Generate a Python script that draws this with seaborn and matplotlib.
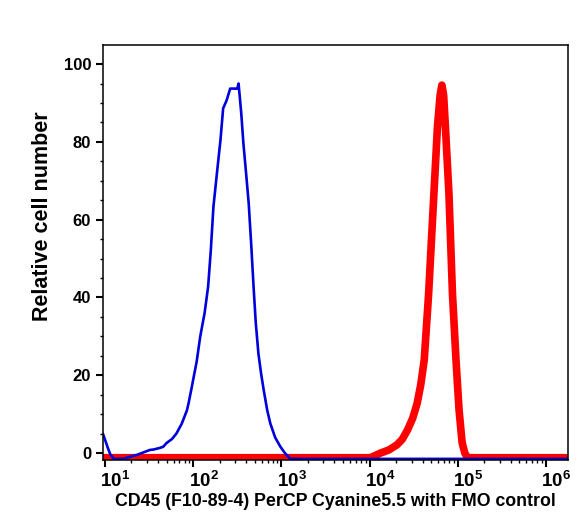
import numpy as np
import pandas as pd
import matplotlib
matplotlib.use('Agg')
import matplotlib.pyplot as plt
import matplotlib.ticker as mticker
import matplotlib.transforms as mtransforms
import seaborn as sns

# histogram traces, x given as log10 of fluorescence intensity
fmo_logx = [0.977, 1.0, 1.03, 1.06, 1.1, 1.2, 1.36, 1.51, 1.55, 1.62, 1.66, 1.70, 1.76, 1.81,
            1.87, 1.93, 1.95, 1.985, 2.0, 2.04, 2.08, 2.13, 2.17, 2.20, 2.23, 2.27, 2.31,
            2.34, 2.38, 2.42, 2.44, 2.50, 2.515, 2.545, 2.57, 2.60, 2.63, 2.66, 2.685,
            2.71, 2.74, 2.77, 2.80, 2.84, 2.875, 2.93, 2.99, 3.04, 3.10, 4.0, 5.0, 6.25]
fmo_count = [5.0, 3.5, 1.5, -0.3, -1.5, -1.5, -0.5, 0.8, 0.9, 1.3, 1.6, 2.6, 3.6, 5.0,
             7.5, 11.0, 13.0, 17.0, 18.8, 23.5, 29.9, 36.0, 42.8, 52.0, 63.3, 72.0, 80.5,
             88.6, 90.7, 93.7, 93.7, 93.7, 95.0, 87.5, 79.6, 72.0, 64.2, 53.0, 42.8,
             33.5, 25.6, 20.5, 16.2, 11.0, 7.6, 4.0, 1.6, 0.0, -1.5, -1.5, -1.5, -1.5]

cd45_logx = [0.977, 2.0, 3.0, 4.01, 4.125, 4.22, 4.31, 4.37, 4.43, 4.49, 4.54, 4.58, 4.62,
             4.67, 4.70, 4.73, 4.77, 4.80, 4.82, 4.84, 4.86, 4.90, 4.94, 4.98, 5.015, 5.05,
             5.08, 5.11, 6.0, 6.25]
cd45_count = [-1.2, -1.2, -1.2, -1.2, 0.0, 0.8, 2.1, 3.5, 5.9, 9.0, 12.8, 17.5, 23.9,
              41.0, 54.0, 66.8, 83.9, 92.0, 94.6, 92.0, 83.9, 66.8, 41.0, 24.0, 11.0, 2.6,
              0.0, -1.2, -1.2, -1.2]

xlabel = 'CD45 (F10-89-4) PerCP Cyanine5.5 with FMO control'
ylabel = 'Relative cell number'

sns.set_style('ticks')
plt.rcParams['font.family'] = ['Liberation Sans', 'DejaVu Sans']
plt.rcParams['font.weight'] = 'bold'
plt.rcParams['text.color'] = 'black'
plt.rcParams['axes.labelcolor'] = 'black'
plt.rcParams['xtick.color'] = 'black'
plt.rcParams['ytick.color'] = 'black'
plt.rcParams['xtick.direction'] = 'out'
plt.rcParams['ytick.direction'] = 'out'
plt.rcParams['mathtext.fontset'] = 'custom'
plt.rcParams['mathtext.rm'] = 'Liberation Sans:bold'
plt.rcParams['mathtext.bf'] = 'Liberation Sans:bold'
plt.rcParams['mathtext.it'] = 'Liberation Sans:bold'
plt.rcParams['mathtext.default'] = 'bf'

fmo = pd.DataFrame({'x': 10 ** np.array(fmo_logx), 'y': fmo_count})
cd45 = pd.DataFrame({'x': 10 ** np.array(cd45_logx), 'y': cd45_count})

fig = plt.figure(figsize=(5.88, 5.3), dpi=100)
ax = fig.add_axes([0.175, 0.132, 0.791, 0.783])

sns.lineplot(data=cd45, x='x', y='y', color='#ff0000', linewidth=5.5, ax=ax)
sns.lineplot(data=fmo, x='x', y='y', color='#0000dd', linewidth=1.9, ax=ax)

ax.set_xscale('log')
ax.set_xlim(10 ** 0.977, 10 ** 6.25)
ax.set_ylim(-1.8, 104.9)

ax.xaxis.set_major_locator(mticker.LogLocator(base=10, numticks=10))
ax.xaxis.set_minor_locator(mticker.LogLocator(base=10, subs=np.arange(2, 10), numticks=20))
ax.xaxis.set_minor_formatter(mticker.NullFormatter())
ax.yaxis.set_major_locator(mticker.MultipleLocator(20))
ax.yaxis.set_minor_locator(mticker.MultipleLocator(5))

for s in ax.spines.values():
    s.set_linewidth(1.1)
    s.set_color('black')

ax.tick_params(which='major', direction='out', length=5, width=1.5, colors='black', labelsize=12)
ax.tick_params(which='minor', direction='out', length=2.5, width=1.0, colors='black')
ax.tick_params(axis='x', which='major', labelsize=13.5, pad=3)

# decade labels sit just right of their tick, as in the original export
shift = mtransforms.ScaledTranslation(-0.045, 0, fig.dpi_scale_trans)
for lab in ax.get_xticklabels():
    lab.set_horizontalalignment('left')
    lab.set_transform(lab.get_transform() + shift)

ax.set_xlabel(xlabel, fontsize=12.8, fontweight='bold', labelpad=1)
ax.set_ylabel(ylabel, fontsize=15.5, fontweight='bold', labelpad=12)
ax.yaxis.set_label_coords(-0.108, 0.588)

fig.savefig('out.png', dpi=100)
